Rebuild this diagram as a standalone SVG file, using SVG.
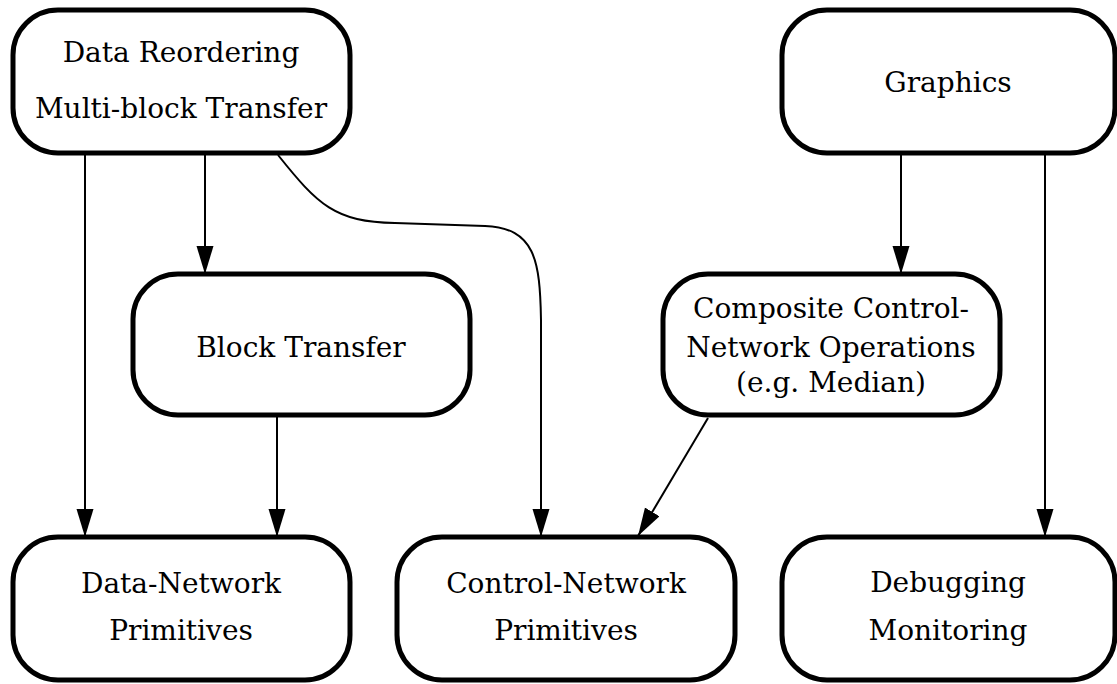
<svg xmlns="http://www.w3.org/2000/svg" width="1117" height="684" viewBox="0 0 1117 684">
<style>
.node rect{fill:#fff;stroke:#000;stroke-width:5}
.node text{font-family:"DejaVu Serif","Liberation Serif",serif;font-size:28px;fill:#000;text-anchor:middle}
.edge{fill:none;stroke:#000;stroke-width:2;marker-end:url(#arr)}
</style>
<defs>
<marker id="arr" markerUnits="userSpaceOnUse" markerWidth="30" markerHeight="18" refX="28" refY="8.5" orient="auto">
<path d="M0,0 L28,8.5 L0,17 z" fill="#000"/>
</marker>
</defs>
<rect width="1117" height="684" fill="#fff"/>
<g id="connectors">
<path class="edge" d="M85,153 L85,537"/>
<path class="edge" d="M205,153 L205,274"/>
<path class="edge" d="M278,155 C318,205 335,222 395,223 L485,226 C535,228 540,260 541,320 L541,537"/>
<path class="edge" d="M277,415 L277,537"/>
<path class="edge" d="M708,418 L638,536"/>
<path class="edge" d="M901,153 L901,274"/>
<path class="edge" d="M1045,153 L1045,537"/>
</g>
<g id="node-data-reordering" class="node">
<rect x="13" y="10" width="337" height="143" rx="45"/>
<text x="181" y="62">Data Reordering</text>
<text x="181" y="118">Multi-block Transfer</text>
</g>
<g id="node-graphics" class="node">
<rect x="782" y="10" width="333" height="143" rx="45"/>
<text x="948" y="92">Graphics</text>
</g>
<g id="node-block-transfer" class="node">
<rect x="133" y="274" width="337" height="141" rx="45"/>
<text x="301" y="357">Block Transfer</text>
</g>
<g id="node-composite" class="node">
<rect x="663" y="274" width="337" height="141" rx="45"/>
<text x="831" y="318">Composite Control-</text>
<text x="831" y="357">Network Operations</text>
<text x="831" y="392">(e.g. Median)</text>
</g>
<g id="node-data-network" class="node">
<rect x="13" y="537" width="337" height="143" rx="45"/>
<text x="181" y="593">Data-Network</text>
<text x="181" y="640">Primitives</text>
</g>
<g id="node-control-network" class="node">
<rect x="397" y="537" width="338" height="143" rx="45"/>
<text x="566" y="593">Control-Network</text>
<text x="566" y="640">Primitives</text>
</g>
<g id="node-debugging" class="node">
<rect x="782" y="537" width="333" height="143" rx="45"/>
<text x="948" y="592">Debugging</text>
<text x="948" y="640">Monitoring</text>
</g>
</svg>
